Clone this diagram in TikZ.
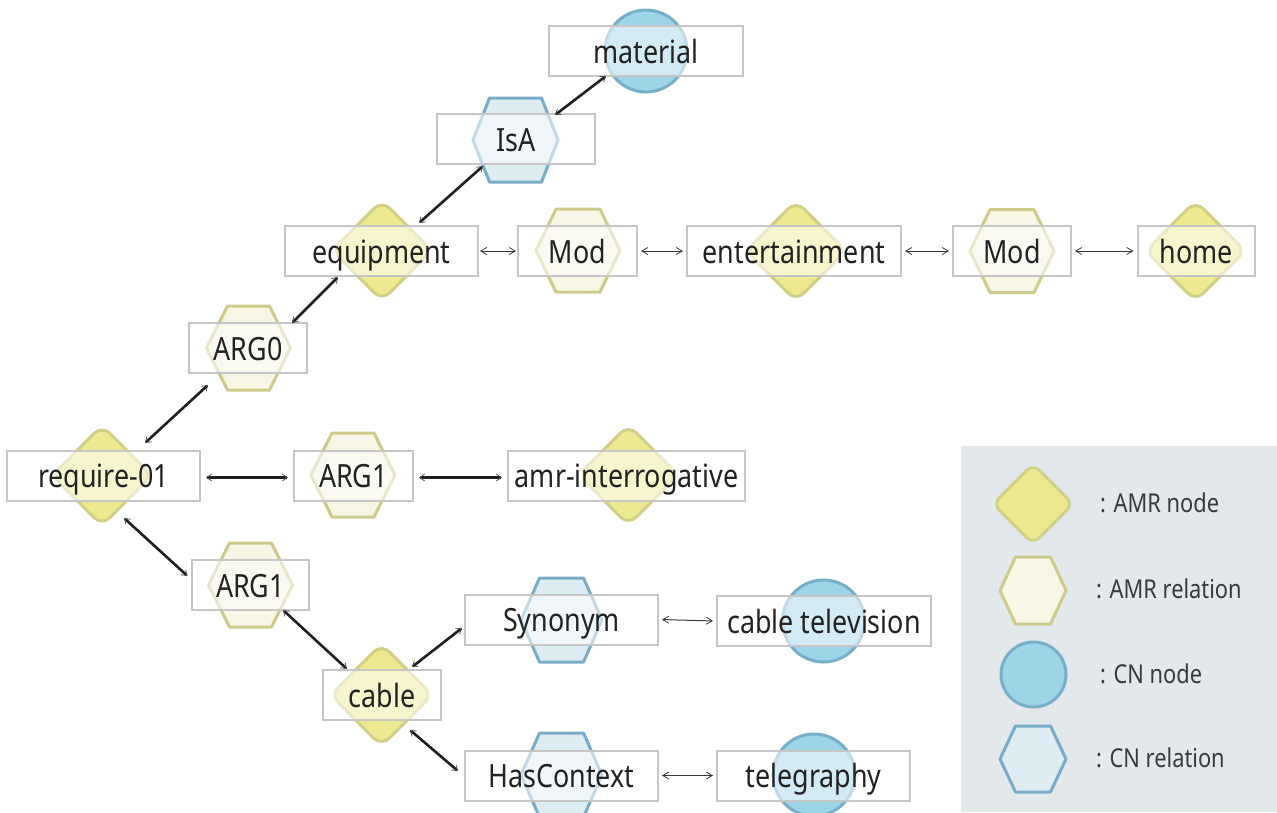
\documentclass[tikz,border=0pt]{standalone}
\usepackage{fontspec}
\setmainfont{Noto Sans}[FakeStretch=0.84]
\usetikzlibrary{arrows.meta,calc}
\definecolor{amrnodefill}{HTML}{ECE991}
\definecolor{amrnodedraw}{HTML}{D2CF87}
\definecolor{amrrelfill}{HTML}{F8F6E4}
\definecolor{amrreldraw}{HTML}{CDCB8C}
\definecolor{cnnodefill}{HTML}{9DD4E8}
\definecolor{cnnodedraw}{HTML}{78AFC8}
\definecolor{cnrelfill}{HTML}{DEEDF2}
\definecolor{cnreldraw}{HTML}{78ACC8}
\definecolor{boxgray}{HTML}{C6C6C6}
\definecolor{textcol}{HTML}{222222}
\definecolor{legbg}{HTML}{E3E8EB}
\definecolor{legtextcol}{HTML}{3A3A3A}
\definecolor{arrowgray}{HTML}{3A3A3A}
\definecolor{tipgray}{HTML}{555555}
\newcommand\mainfs{\fontsize{32pt}{38pt}\selectfont}
\newcommand\legfs{\fontsize{26pt}{30pt}\selectfont}
\newcommand\diamat[4]{\draw[#1] (#2,{#3-#4}) -- ({#2+#4},#3) -- (#2,{#3+#4}) -- ({#2-#4},#3) -- cycle;}
\newcommand\hexat[6]{\draw[#1] ({#2-#4},#3) -- ({#2-#6},{#3-#5}) -- ({#2+#6},{#3-#5}) -- ({#2+#4},#3) -- ({#2+#6},{#3+#5}) -- ({#2-#6},{#3+#5}) -- cycle;}
\begin{document}
\begin{tikzpicture}[x=1pt,y=-1pt,
  amrnode/.style={fill=amrnodefill, draw=amrnodedraw, line width=3pt, rounded corners=11pt, line join=round},
  amrrel/.style={fill=amrrelfill, draw=amrreldraw, line width=3pt, line join=round},
  cnnode/.style={fill=cnnodefill, draw=cnnodedraw, line width=3pt},
  cnrel/.style={fill=cnrelfill, draw=cnreldraw, line width=3pt, line join=round},
  box/.style={draw=boxgray, line width=2pt, fill=white, fill opacity=0.55, text opacity=1, draw opacity=1,
    text=textcol, minimum height=50pt, inner sep=0pt, text height=24pt, text depth=0pt, font=\mainfs},
  lightarrow/.style={draw=arrowgray, line width=1pt,
    {Straight Barb[length=6pt,width=7pt,line width=0.8pt]}-{Straight Barb[length=6pt,width=7pt,line width=0.8pt]},
    shorten <=3pt, shorten >=3pt},
  heavyarrow/.style={draw=black!88, line width=2.6pt,
    {Straight Barb[length=5pt,width=7pt,line width=0.8pt,color=tipgray]}-{Straight Barb[length=5pt,width=7pt,line width=0.8pt,color=tipgray]}},
  legtext/.style={text=legtextcol, font=\legfs, inner sep=0pt, anchor=base west}
]
\useasboundingbox (0,0) rectangle (1277,812);
\fill[white] (0,0) rectangle (1277,812);

% legend background
\fill[legbg] (961,446) rectangle (1277,812);

% shapes
\draw[cnnode] (646,51) circle[radius=41];
\hexat{cnrel}{515.5}{140}{42.5}{42}{26}
\diamat{amrnode}{382}{250.5}{50}
\hexat{amrrel}{578}{250.5}{42}{41.5}{22}
\diamat{amrnode}{796}{251}{50}
\hexat{amrrel}{1012}{251}{42}{41.5}{22}
\diamat{amrnode}{1195.5}{251}{50}
\hexat{amrrel}{248.5}{348}{42}{42}{21}
\diamat{amrnode}{102}{475.5}{50}
\hexat{amrrel}{353}{475}{42}{42}{21}
\diamat{amrnode}{628.5}{475}{50}
\hexat{amrrel}{250.5}{585}{42}{42}{21}
\diamat{amrnode}{381.5}{695}{51}
\hexat{cnrel}{561.5}{620}{40.5}{42}{22}
\draw[cnnode] (823.5,621) circle[radius=41];
\hexat{cnrel}{561.5}{775}{40.5}{42}{22}
\draw[cnnode] (814,775) circle[radius=41];

% boxes with text
\node[box, minimum width=194pt] (material) at (646,51) {material};
\node[box, minimum width=158pt] (isa) at (516,139) {IsA};
\node[box, minimum width=193pt] (equipment) at (381.5,251) {equipment};
\node[box, minimum width=119pt] (mod1) at (577.5,251) {Mod};
\node[box, minimum width=214pt] (entertainment) at (794,251) {entertainment};
\node[box, minimum width=118pt] (mod2) at (1012,251) {Mod};
\node[box, minimum width=117pt] (home) at (1196,251) {home};
\node[box, minimum width=118pt] (arg0) at (248,348) {ARG0};
\node[box, minimum width=193pt] (require) at (103.5,475.5) {require-01};
\node[box, minimum width=119pt] (arg1a) at (353.5,475.5) {ARG1};
\node[box, minimum width=237pt] (amr) at (626.5,475.5) {amr-interrogative};
\node[box, minimum width=117pt] (arg1b) at (250.5,585) {ARG1};
\node[box, minimum width=118pt] (cable) at (382,695) {cable};
\node[box, minimum width=193pt] (synonym) at (561.5,619.5) {Synonym};
\node[box, minimum width=214pt] (cabletv) at (824,621) {cable television};
\node[box, minimum width=193pt] (hascontext) at (561.5,775.5) {HasContext};
\node[box, minimum width=193pt] (telegraphy) at (813.5,775.5) {telegraphy};

% connectors
\draw[heavyarrow] ([shift={(-40,25)}]material.center) -- ([shift={(39,-24)}]isa.center);
\draw[heavyarrow] ([shift={(-33,27)}]isa.center) -- ([shift={(37.5,-28)}]equipment.center);
\draw[heavyarrow] ([shift={(-43.5,26)}]equipment.center) -- ([shift={(44,-25)}]arg0.center);
\draw[heavyarrow] ([shift={(-40,37)}]arg0.center) -- ([shift={(41.5,-32.5)}]require.center);
\draw[heavyarrow] ([shift={(20.5,42.5)}]require.center) -- ([shift={(-63,-9)}]arg1b.center);
\draw[heavyarrow] ([shift={(32.5,25)}]arg1b.center) -- ([shift={(-35,-26)}]cable.center);
\draw[heavyarrow] ([shift={(30,-28)}]cable.center) -- ([shift={(-99.5,8.5)}]synonym.center);
\draw[heavyarrow] ([shift={(28,35)}]cable.center) -- ([shift={(-103.5,-4.5)}]hascontext.center);
\draw[heavyarrow, shorten <=5pt, shorten >=5pt] ([yshift=-2pt]require.east) -- ([yshift=-2pt]arg1a.west);
\draw[heavyarrow, shorten <=5pt, shorten >=5pt] ([yshift=-2pt]arg1a.east) -- ([yshift=-2pt]amr.west);

\draw[lightarrow, shorten <=1pt, shorten >=1pt] (equipment.east) -- (mod1.west);
\draw[lightarrow] (mod1.east) -- (entertainment.west);
\draw[lightarrow] (entertainment.east) -- (mod2.west);
\draw[lightarrow] (mod2.east) -- (home.west);
\draw[lightarrow] (synonym.east) -- (cabletv.west);
\draw[lightarrow] (hascontext.east) -- (telegraphy.west);

% legend
\diamat{amrnode, rounded corners=9pt}{1033}{504}{40}
\hexat{amrrel}{1033}{590.5}{33}{33.5}{17.5}
\draw[cnnode] (1033.5,674.5) circle[radius=32.5];
\hexat{cnrel}{1033}{759}{33}{33}{17.5}
\node[legtext] (leg1) at (1100,512) {: AMR node};
\node[legtext] (leg2) at (1096,598) {: AMR relation};
\node[legtext] (leg3) at (1100,683) {: CN node};
\node[legtext] (leg4) at (1096,767) {: CN relation};
\end{tikzpicture}
\end{document}
